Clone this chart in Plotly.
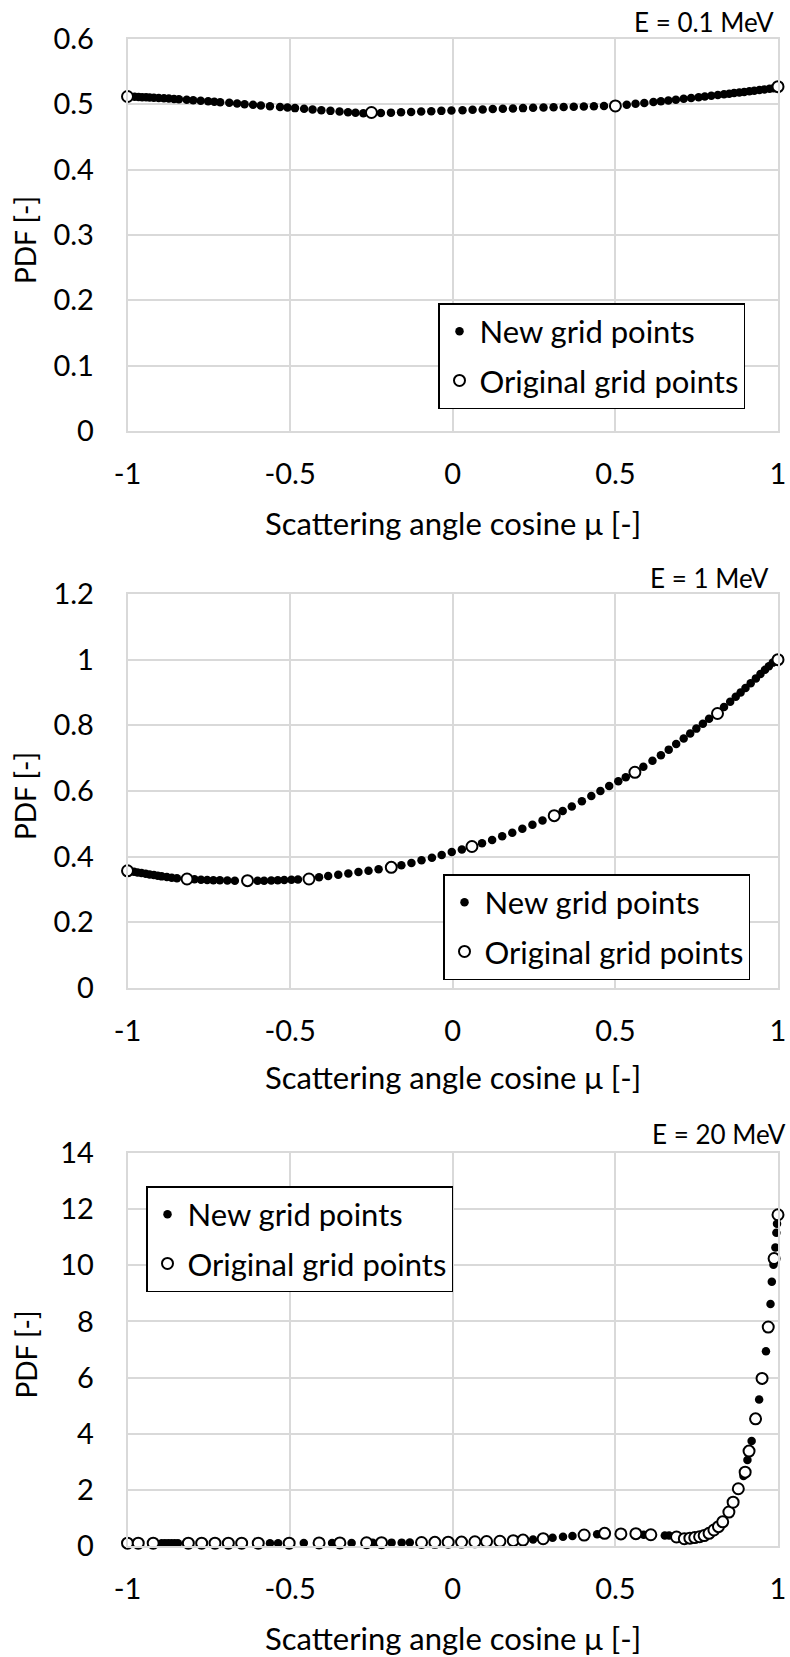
import plotly.graph_objects as go

# ---------------- data ----------------
# E = 0.1 MeV
mu_new_01 = [-0.978, -0.966, -0.955, -0.943, -0.932, -0.919, -0.904, -0.888, -0.873, -0.857, -0.842,
             -0.818, -0.798, -0.775, -0.752, -0.733, -0.715, -0.687, -0.663, -0.640, -0.614, -0.590,
             -0.562, -0.531, -0.508, -0.485, -0.457, -0.431, -0.404, -0.376, -0.348, -0.322, -0.299,
             -0.275, -0.221, -0.190, -0.159, -0.128, -0.097, -0.066, -0.035, -0.004, 0.030, 0.061,
             0.092, 0.123, 0.154, 0.185, 0.216, 0.247, 0.279, 0.310, 0.341, 0.372, 0.403, 0.434, 0.465,
             0.535, 0.562, 0.589, 0.617, 0.640, 0.663, 0.686, 0.710, 0.733, 0.756, 0.775, 0.795, 0.815,
             0.834, 0.850, 0.865, 0.881, 0.896, 0.912, 0.927, 0.943, 0.958, 0.974, 0.986]
pdf_new_01 = [0.5115, 0.5113, 0.5110, 0.5108, 0.5105, 0.5102, 0.5098, 0.5093, 0.5088, 0.5083, 0.5078,
              0.5070, 0.5063, 0.5055, 0.5047, 0.5040, 0.5033, 0.5023, 0.5013, 0.5003, 0.4993, 0.4983,
              0.4972, 0.4960, 0.4951, 0.4942, 0.4931, 0.4921, 0.4911, 0.4900, 0.4890, 0.4880, 0.4872,
              0.4864, 0.4868, 0.4873, 0.4878, 0.4884, 0.4889, 0.4895, 0.4900, 0.4906, 0.4911, 0.4916,
              0.4922, 0.4927, 0.4932, 0.4937, 0.4942, 0.4946, 0.4951, 0.4955, 0.4960, 0.4964, 0.4967,
              0.4970, 0.4973,
              0.4995, 0.5008, 0.5021, 0.5035, 0.5047, 0.5059, 0.5071, 0.5084, 0.5096, 0.5109, 0.5120,
              0.5131, 0.5142, 0.5153, 0.5163, 0.5172, 0.5181, 0.5190, 0.5200, 0.5209, 0.5219, 0.5228,
              0.5238, 0.5246]
mu_orig_01 = [-1.0, -0.25, 0.5, 1.0]
pdf_orig_01 = [0.512, 0.4875, 0.4975, 0.527]

# E = 1 MeV
mu_new_1 = [-0.980, -0.969, -0.957, -0.944, -0.932, -0.919, -0.907, -0.895, -0.879, -0.864, -0.848,
            -0.794, -0.774, -0.755, -0.736, -0.716, -0.693, -0.670,
            -0.600, -0.580, -0.558, -0.538, -0.518, -0.496, -0.476,
            -0.411, -0.383, -0.352, -0.321, -0.290, -0.259, -0.228,
            -0.158, -0.127, -0.096, -0.064, -0.034, -0.003, 0.028,
            0.090, 0.121, 0.152, 0.183, 0.214, 0.245, 0.276,
            0.338, 0.366, 0.397, 0.426, 0.454, 0.481, 0.509, 0.532,
            0.586, 0.614, 0.640, 0.664, 0.687, 0.710, 0.730, 0.749, 0.769, 0.788,
            0.834, 0.853, 0.870, 0.885, 0.900, 0.916, 0.932, 0.946, 0.960, 0.972, 0.984]
pdf_new_1 = [0.354, 0.352, 0.350, 0.348, 0.346, 0.344, 0.342, 0.340, 0.338, 0.336, 0.334,
             0.331, 0.330, 0.329, 0.3285, 0.328, 0.3275, 0.327,
             0.3268, 0.327, 0.3275, 0.328, 0.3288, 0.3297, 0.3307,
             0.337, 0.341, 0.345, 0.349, 0.353, 0.357, 0.362,
             0.374, 0.381, 0.389, 0.397, 0.405, 0.414, 0.422,
             0.441, 0.451, 0.462, 0.473, 0.485, 0.497, 0.510,
             0.539, 0.553, 0.569, 0.585, 0.600, 0.615, 0.630, 0.642,
             0.674, 0.692, 0.709, 0.726, 0.743, 0.760, 0.775, 0.790, 0.805, 0.820,
             0.856, 0.872, 0.887, 0.900, 0.914, 0.928, 0.943, 0.956, 0.969, 0.980, 0.991]
mu_orig_1 = [-1.0, -0.817, -0.631, -0.442, -0.189, 0.059, 0.312, 0.560, 0.814, 1.0]
pdf_orig_1 = [0.357, 0.332, 0.327, 0.332, 0.3675, 0.431, 0.525, 0.657, 0.836, 1.0]

# E = 20 MeV
mu_new_20 = [-0.895, -0.885, -0.875, -0.865, -0.855, -0.845,
             -0.562, -0.537, -0.458, -0.371, -0.311, -0.246, -0.188, -0.157, -0.132,
             0.247, 0.307, 0.339, 0.368, 0.444, 0.587, 0.652, 0.665,
             0.894, 0.906, 0.919, 0.942, 0.963, 0.977, 0.981, 0.986, 0.992, 0.995, 0.997]
pdf_new_20 = [0.10, 0.10, 0.10, 0.10, 0.10, 0.10,
              0.10, 0.10, 0.105, 0.11, 0.11, 0.115, 0.12, 0.12, 0.125,
              0.23, 0.29, 0.33, 0.36, 0.42, 0.40, 0.37, 0.37,
              2.49, 3.06, 3.74, 5.22, 6.94, 8.62, 9.41, 10.02, 10.63, 11.16, 11.48]
mu_orig_20 = [-1.0, -0.967, -0.921, -0.813, -0.772, -0.731, -0.690, -0.649, -0.598, -0.503,
              -0.411, -0.347, -0.265, -0.219, -0.096, -0.055, -0.014, 0.027, 0.068, 0.104,
              0.145, 0.186, 0.216, 0.278, 0.404, 0.467, 0.517, 0.563, 0.609, 0.688,
              0.712, 0.729, 0.744, 0.759, 0.773, 0.788, 0.803, 0.817, 0.830, 0.849,
              0.862, 0.878, 0.899, 0.911, 0.931, 0.951, 0.970, 0.988, 1.0]
pdf_orig_20 = [0.10, 0.10, 0.10, 0.10, 0.10, 0.10, 0.10, 0.10, 0.10, 0.10,
               0.11, 0.11, 0.115, 0.12, 0.125, 0.13, 0.135, 0.14, 0.15, 0.16,
               0.17, 0.19, 0.21, 0.26, 0.39, 0.45, 0.43, 0.44, 0.40, 0.32,
               0.26, 0.28, 0.30, 0.33, 0.37, 0.45, 0.57, 0.69, 0.86, 1.21,
               1.56, 2.04, 2.63, 3.38, 4.53, 5.97, 7.80, 10.24, 11.8]

x_tickvals = [-1, -0.5, 0, 0.5, 1]
x_ticktext = ["-1", "-0.5", "0", "0.5", "1"]
y1_tickvals = [0, 0.1, 0.2, 0.3, 0.4, 0.5, 0.6]
y1_ticktext = ["0", "0.1", "0.2", "0.3", "0.4", "0.5", "0.6"]
y2_tickvals = [0, 0.2, 0.4, 0.6, 0.8, 1.0, 1.2]
y2_ticktext = ["0", "0.2", "0.4", "0.6", "0.8", "1", "1.2"]
y3_tickvals = [0, 2, 4, 6, 8, 10, 12, 14]
y3_ticktext = ["0", "2", "4", "6", "8", "10", "12", "14"]

titles = ["E = 0.1 MeV", "E = 1 MeV", "E = 20 MeV"]
x_title = "Scattering angle cosine μ [-]"
y_title = "PDF [-]"
legend_names = ["New grid points", "Original grid points"]

# ---------------- layout geometry (pixels) ----------------
W, H = 790, 1657
FONT = "Lato"
GRID = "#d9d9d9"
x_left, x_right = 127.5, 778.0
panels = [  # (top, bottom) pixel of plot area
    (39.0, 431.0),
    (594.0, 988.0),
    (1153.0, 1546.0),
]

def py(p):
    return 1 - p / H

def px(p):
    return p / W

fig = go.Figure()

datasets = [
    (mu_new_01, pdf_new_01, mu_orig_01, pdf_orig_01, [0, 0.6], y1_tickvals, y1_ticktext),
    (mu_new_1, pdf_new_1, mu_orig_1, pdf_orig_1, [0, 1.2], y2_tickvals, y2_ticktext),
    (mu_new_20, pdf_new_20, mu_orig_20, pdf_orig_20, [0, 14], y3_tickvals, y3_ticktext),
]

legend_pos = [(438, 303), (443, 874), (146, 1186)]
title_pos = [(776, 22), (771, 578), (788, 1134)]
xtitle_y = [523, 1077, 1638]

annotations = []
for i, (mn, pn, mo, po, yr, ytv, ytt) in enumerate(datasets):
    k = "" if i == 0 else str(i + 1)
    xa, ya = "x" + k, "y" + k
    lg = "legend" + k
    fig.add_trace(go.Scatter(
        x=mn, y=pn, mode="markers", name=legend_names[0], xaxis=xa, yaxis=ya,
        legend=lg, legendgroup="new" + k, cliponaxis=False,
        marker=dict(symbol="circle", size=8.5, color="black", line=dict(width=0)),
    ))
    fig.add_trace(go.Scatter(
        x=mo, y=po, mode="markers", name=legend_names[1], xaxis=xa, yaxis=ya,
        legend=lg, legendgroup="orig" + k, cliponaxis=False,
        marker=dict(symbol="circle", size=11, color="white", line=dict(width=2, color="black")),
    ))
    top, bot = panels[i]
    axis_common = dict(
        showgrid=True, gridcolor=GRID, gridwidth=1.5,
        showline=True, linecolor=GRID, linewidth=1.5, mirror=True,
        zeroline=False, ticks="", tickfont=dict(family=FONT, size=29, color="black"),
        fixedrange=True, automargin=False,
    )
    fig.update_layout(**{
        "xaxis" + k: dict(
            domain=[px(x_left), px(x_right)], anchor=ya, range=[-1, 1],
            tickmode="array", tickvals=x_tickvals, ticktext=x_ticktext,
            ticklabelstandoff=16, **axis_common),
        "yaxis" + k: dict(
            domain=[py(bot), py(top)], anchor=xa, range=yr,
            tickmode="array", tickvals=ytv, ticktext=ytt,
            ticklabelstandoff=26, **axis_common),
        lg: dict(
            x=px(legend_pos[i][0]), y=py(legend_pos[i][1]), xanchor="left", yanchor="top",
            bgcolor="white", bordercolor="black", borderwidth=1.5,
            font=dict(family=FONT, size=31, color="black"),
            tracegroupgap=6, itemclick=False, itemdoubleclick=False,
        ),
    })
    tx, ty = title_pos[i]
    annotations.append(dict(
        text=titles[i], x=px(tx), y=py(ty), xref="paper", yref="paper",
        xanchor="right", yanchor="middle", showarrow=False,
        font=dict(family=FONT, size=26, color="black")))
    annotations.append(dict(
        text=x_title, x=px((x_left + x_right) / 2), y=py(xtitle_y[i]), xref="paper", yref="paper",
        xanchor="center", yanchor="middle", showarrow=False,
        font=dict(family=FONT, size=31, color="black")))
    annotations.append(dict(
        text=y_title, x=px(25), y=py((top + bot) / 2 + 5), xref="paper", yref="paper",
        xanchor="center", yanchor="middle", showarrow=False, textangle=-90,
        font=dict(family=FONT, size=28, color="black")))

fig.update_layout(
    width=W, height=H, autosize=False,
    margin=dict(l=0, r=0, t=0, b=0, pad=0),
    paper_bgcolor="white", plot_bgcolor="white",
    showlegend=True, annotations=annotations,
    font=dict(family=FONT, color="black"),
)

fig.write_html(
    "out.html",
    config={"displayModeBar": False, "responsive": False},
    default_width="790px", default_height="1657px",
    post_script="document.body.style.margin='0px';document.body.style.padding='0px';"
                "document.documentElement.style.overflow='hidden';",
)
